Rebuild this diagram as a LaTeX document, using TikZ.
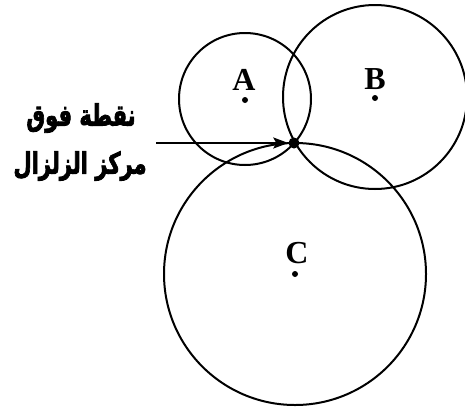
\documentclass[tikz,border=0pt]{standalone}
\usepackage{fontspec}
\usepackage{graphicx}
\setmainfont{Liberation Serif}
\newfontfamily\arabicfont[Script=Arabic,FakeBold=3]{DejaVu Sans Bold}
\TeXXeTstate=1
\usetikzlibrary{arrows.meta}
\tikzset{
  circ/.style={draw=black, line width=2pt},
  cdot/.style={circle, fill=black, inner sep=0pt, minimum size=6pt},
  bigdot/.style={circle, fill=black, inner sep=0pt, minimum size=11pt},
  lbl/.style={font=\fontsize{32}{34}\selectfont\bfseries, inner sep=0pt},
  artext/.style={font=\arabicfont\fontsize{21}{24}\selectfont, inner sep=0pt, align=center}
}
\begin{document}
\begin{tikzpicture}[x=1pt,y=-1pt]
\useasboundingbox (0,0) rectangle (465,407);
\fill[white] (0,0) rectangle (465,407);
\clip (0,0) rectangle (465,407);
% circles
\draw[circ] (245,99) circle (66);
\draw[circ] (375,97) circle (92);
\draw[circ] (295,274) circle (131);
% centres
\node[cdot] (ca) at (245,100) {};
\node[cdot] (cb) at (375,98) {};
\node[cdot] (cc) at (295,274) {};
\node[lbl] (la) at (244,80) {A};
\node[lbl] (lb) at (375,79) {B};
\node[lbl] (lc) at (297,253) {C};
% epicentre
\node[bigdot] (epi) at (294,143) {};
\coordinate (tail) at (156,143);
\draw[line width=2pt, -{Stealth[length=15pt,width=11pt,inset=3pt]}] (tail) -- (epi.west);
% text
\node[artext] (t1) at (81,118) {\scalebox{1}[1.4]{\beginR نقطة فوق\endR}};
\node[artext] (t2) at (80,166) {\scalebox{1}[1.4]{\beginR مركز الزلزال\endR}};
\end{tikzpicture}
\end{document}
